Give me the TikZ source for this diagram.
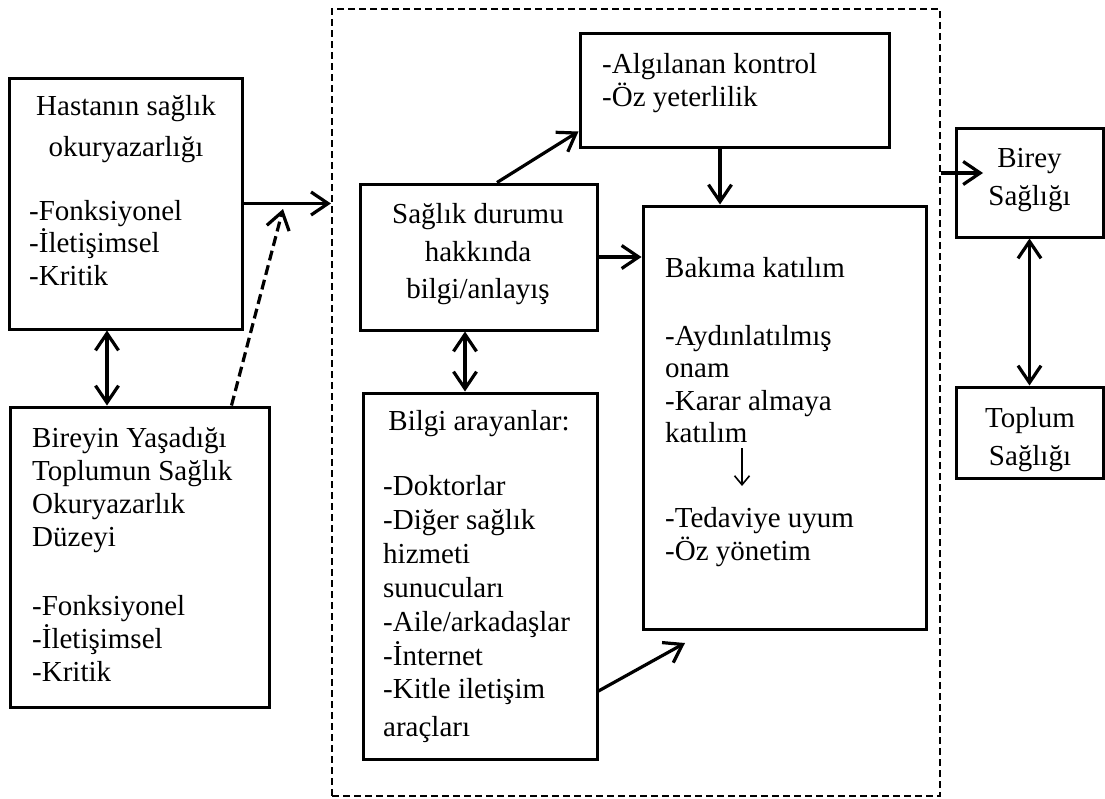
\documentclass[tikz,border=0pt]{standalone}
\usepackage{fontspec}
\setmainfont{Liberation Serif}
\usetikzlibrary{arrows.meta}

\tikzset{
  box/.style={draw, line width=3pt, inner sep=0pt},
  txt/.style={anchor=base west, inner sep=0pt, font=\fontsize{29}{33}\selectfont},
  ctxt/.style={txt, anchor=base},
  arr/.style={line width=3.2pt, -{Straight Barb[length=17pt,width=23pt]}},
  darr/.style={line width=3.2pt, {Straight Barb[length=17pt,width=23pt]}-{Straight Barb[length=17pt,width=23pt]}},
}

\begin{document}
\begin{tikzpicture}[x=1pt,y=-1pt]
        \useasboundingbox (0,0) rectangle (1105,798);
        % boxes
        \node[box, dash pattern=on 7pt off 4pt, line width=2.2pt, minimum width=608pt, minimum height=787pt] (dashbox) at (636,402.5) {};
        \node[box, minimum width=233pt, minimum height=251pt] (hasta) at (125.5,203.5) {};
        \node[box, minimum width=259pt, minimum height=300pt] (bireyin) at (139.5,557) {};
        \node[box, minimum width=237pt, minimum height=146pt] (saglik) at (478.5,257) {};
        \node[box, minimum width=309pt, minimum height=114pt] (algi) at (734.5,90) {};
        \node[box, minimum width=283pt, minimum height=423pt] (bakim) at (784.5,417.5) {};
        \node[box, minimum width=234pt, minimum height=366pt] (bilgi) at (480,576) {};
        \node[box, minimum width=147pt, minimum height=109pt] (birey) at (1029.5,182.5) {};
        \node[box, minimum width=147pt, minimum height=91pt] (toplum) at (1029.5,432.5) {};

        % texts
        \node[ctxt] (h1) at (126,115) {Hastanın sağlık};
        \node[ctxt] (h2) at (126,156) {okuryazarlığı};
        \foreach \t/\y [count=\i] in {-Fonksiyonel/220,-İletişimsel/252.5,-Kritik/285}
            {\node[txt] (hl\i) at (29,\y) {\t};}
        \foreach \t/\y [count=\i] in {Bireyin Yaşadığı/447,Toplumun Sağlık/480,Okuryazarlık/513,Düzeyi/546,
                                      -Fonksiyonel/615,-İletişimsel/648,-Kritik/681}
            {\node[txt] (bl\i) at (32,\y) {\t};}
        \foreach \t/\y [count=\i] in {Sağlık durumu/223,hakkında/261,{bilgi/anlayış}/298}
            {\node[ctxt] (sl\i) at (478,\y) {\t};}
        \node[txt] (al1) at (602,73) {-Algılanan kontrol};
        \node[txt] (al2) at (602,106) {-Öz yeterlilik};
        \foreach \t/\y [count=\i] in {Bakıma katılım/277,-Aydınlatılmış/345,onam/377,-Karar almaya/410,
                                      katılım/442,-Tedaviye uyum/527,-Öz yönetim/560}
            {\node[txt] (kl\i) at (665,\y) {\t};}
        \node[ctxt] (gl0) at (479,430) {Bilgi arayanlar:};
        \foreach \t/\y [count=\i] in {-Doktorlar/495,-Diğer sağlık/529,hizmeti/563,sunucuları/597,
                                      {-Aile/arkadaşlar}/631,-İnternet/665,-Kitle iletişim/698,araçları/736}
            {\node[txt] (gl\i) at (383,\y) {\t};}
        \node[ctxt] (r1) at (1029.5,167) {Birey};
        \node[ctxt] (r2) at (1029.5,205) {Sağlığı};
        \node[ctxt] (t1) at (1030,427) {Toplum};
        \node[ctxt] (t2) at (1030,465) {Sağlığı};

        % connectors
        \coordinate (dtip) at (283,209);
        \coordinate (btip) at (685,643);
        \coordinate (ktop) at (742,448);
        \coordinate (kbot) at (742,486);
        \coordinate (bin) at (983,173);
        \draw[arr] (hasta.east) -- (hasta.east -| dashbox.west);
        \draw[arr, dash pattern=on 10pt off 5pt] ([xshift=223pt]bireyin.north west) -- (dtip);
        \draw[darr] ([xshift=-18.5pt]hasta.south) -- ([xshift=-18.5pt]hasta.south |- bireyin.north);
        \draw[arr] ([xshift=18.5pt]saglik.north) -- ([yshift=17pt]algi.south west);
        \draw[arr] ([xshift=-14.5pt]algi.south) -- ([xshift=-14.5pt]algi.south |- bakim.north);
        \draw[arr] (saglik.east) -- (saglik.east -| bakim.west);
        \draw[darr] ([xshift=-13.5pt]saglik.south) -- ([xshift=-13.5pt]saglik.south |- bilgi.north);
        \draw[arr] ([yshift=-115pt]bilgi.east) -- (btip);
        \draw[line width=1.6pt, -{Straight Barb[length=9pt,width=15pt]}] (ktop) -- (kbot);
        \draw[arr] (bin -| dashbox.east) -- (bin);
        \draw[darr] (birey.south) -- (toplum.north);
    \end{tikzpicture}
\end{document}
